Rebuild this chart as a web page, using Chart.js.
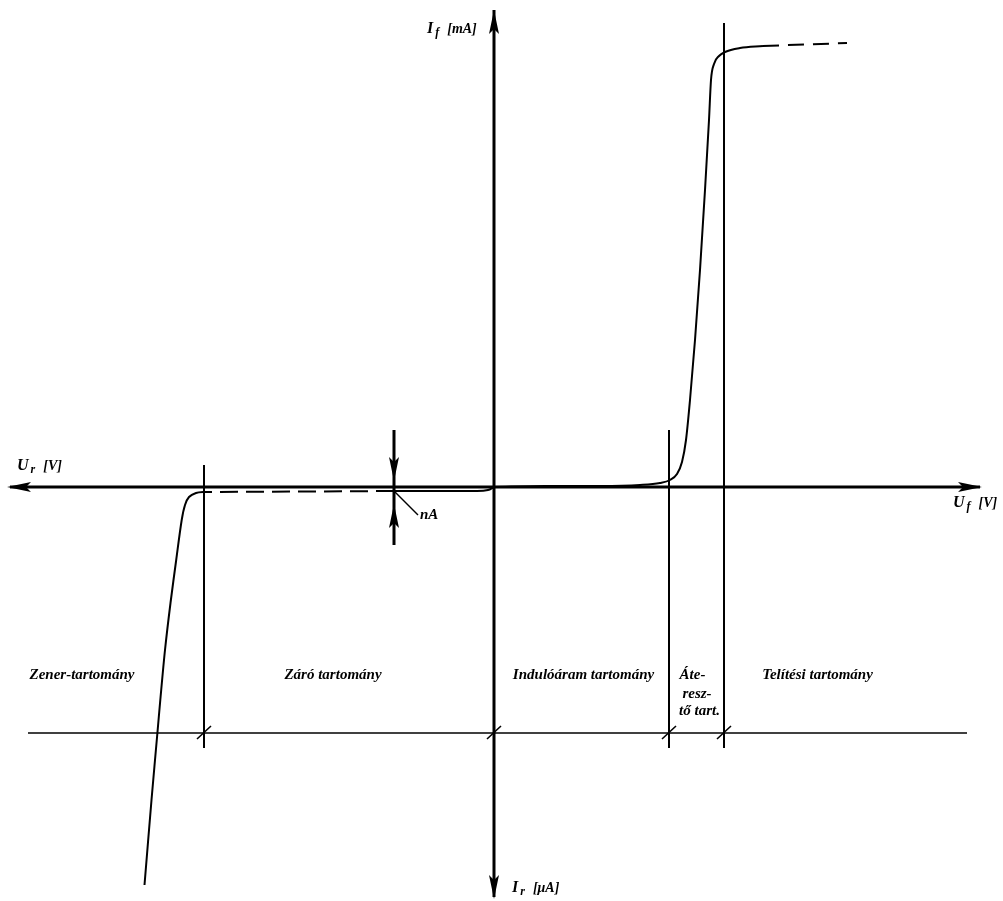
<!DOCTYPE html>
<html>
<head>
<meta charset="utf-8">
<script src="https://cdn.jsdelivr.net/npm/chart.js@4"></script>
<style>
  html, body { margin: 0; padding: 0; background: #fff; }
  #wrap { width: 1003px; height: 901px; }
</style>
</head>
<body>
<div id="wrap"><canvas id="chart" width="1003" height="901"></canvas></div>
<script>
// Diode characteristic, schematic units (U to the right, I up)
const forwardU = [0, 5.1, 10.6, 14.6, 16.6, 17.6, 18.3, 18.8, 19.2, 19.6, 20.1, 20.6, 21.1, 21.5, 21.7, 22.0, 22.5, 23.1, 24.6, 26.9];
const forwardI = [0, 0.1, 0.1, 0.2, 0.4, 0.7, 1.3, 2.5, 4.7, 8.7, 14.7, 21.7, 29.7, 36.7, 40.7, 42.3, 43.1, 43.5, 43.9, 44.1];
const forwardDashU = [26.9, 35.3];
const forwardDashI = [44.1, 44.4];

const leakU = [0, -0.6, -1.7, -10];
const leakI = [0, -0.3, -0.4, -0.4];
const leakDashU = [-10, -28.2];
const leakDashI = [-0.4, -0.5];
const zenerU = [-28.2, -29, -29.8, -30.5, -30.9, -31.23, -31.78, -32.35, -32.9, -33.37, -33.66, -34.25, -34.95];
const zenerI = [-0.5, -0.5, -0.6, -1.0, -1.8, -3.3, -7.3, -11.6, -16.3, -21.3, -24.6, -31.3, -39.8];

// region boundaries on the U axis and the top of each marker line
const boundaryU = [-29, 0, 17.5, 23];
const boundaryTop = [2.2, null, 5.7, 46.4];
const boundaryBottom = -26.1;
const regionLineI = -24.6;
const regionLineU = [-46.6, 47.3];

const regionNames = ['Zener-tartomány', 'Záró tartomány', 'Indulóáram tartomány', 'Áte-', 'resz-', 'tő tart.', 'Telítési tartomány'];
const regionLabelU = [-41.2, -16.1, 8.95, 19.85, 20.3, 20.55, 32.35];
const regionLabelI = [-19.2, -19.2, -19.2, -19.2, -21.1, -22.8, -19.2];

// axes extents
const uAxis = [-48.4, 48.6];
const iAxis = [-41.0, 47.7];
const nAMarkU = -10;
const nAMarkI = [5.7, -5.8];

const pts = (xs, ys) => xs.map((x, i) => ({ x: x, y: ys[i] }));

function seg(data, width, dash) {
  return {
    data: data,
    showLine: true,
    borderColor: '#000',
    backgroundColor: '#000',
    borderWidth: width,
    borderDash: dash || [],
    pointRadius: 0,
    tension: 0,
    spanGaps: false
  };
}

// vertical boundary lines (skip the one that is the main axis)
let boundaryData = [];
boundaryU.forEach((u, i) => {
  if (boundaryTop[i] === null) return;
  boundaryData.push({ x: u, y: boundaryTop[i] }, { x: u, y: boundaryBottom }, { x: u, y: null });
});
// small slashes on the region line
let slashData = [];
boundaryU.forEach(u => {
  slashData.push({ x: u - 0.7, y: regionLineI - 0.6 }, { x: u + 0.7, y: regionLineI + 0.7 }, { x: u, y: null });
});

const curveStyle = { tension: 0.25, cubicInterpolationMode: 'monotone' };

const datasets = [
  seg([{ x: uAxis[0], y: 0 }, { x: uAxis[1], y: 0 }], 3),
  seg([{ x: 0, y: iAxis[0] }, { x: 0, y: iAxis[1] }], 3),
  seg(boundaryData, 2),
  seg([{ x: regionLineU[0], y: regionLineI }, { x: regionLineU[1], y: regionLineI }], 1.6),
  seg(slashData, 1.6),
  seg([{ x: nAMarkU, y: nAMarkI[0] }, { x: nAMarkU, y: nAMarkI[1] }], 3),
  seg([{ x: nAMarkU, y: -0.4 }, { x: -7.6, y: -2.8 }], 1.5),
  Object.assign(seg(pts(forwardU, forwardI), 2), curveStyle),
  seg(pts(forwardDashU, forwardDashI), 2, [16, 9]),
  Object.assign(seg(pts(leakU, leakI), 2), { tension: 0.3 }),
  seg(pts(leakDashU, leakDashI), 2, [18, 8]),
  Object.assign(seg(pts(zenerU, zenerI), 2), { tension: 0.3 })
];

const FONT = '"Liberation Serif", "Times New Roman", serif';

function arrow(ctx, x, y, angle) {
  ctx.save();
  ctx.translate(x, y);
  ctx.rotate(angle);
  ctx.beginPath();
  ctx.moveTo(0, 0);
  ctx.lineTo(-24, -5);
  ctx.lineTo(-19, 0);
  ctx.lineTo(-24, 5);
  ctx.closePath();
  ctx.fillStyle = '#000';
  ctx.fill();
  ctx.restore();
}

function axisLabel(ctx, x, y, main, sub, unit) {
  ctx.fillStyle = '#000';
  ctx.textAlign = 'left';
  ctx.textBaseline = 'alphabetic';
  ctx.font = 'bold italic 16px ' + FONT;
  ctx.fillText(main, x, y);
  let w = ctx.measureText(main).width + 2;
  ctx.font = 'bold italic 12px ' + FONT;
  ctx.fillText(sub, x + w, y + 3);
  w += ctx.measureText(sub).width + 8;
  ctx.font = 'bold italic 14px ' + FONT;
  ctx.fillText(unit, x + w, y);
}

const drawing = {
  id: 'drawing',
  afterDatasetsDraw(chart) {
    const ctx = chart.ctx;
    const sx = chart.scales.x, sy = chart.scales.y;
    const px = v => sx.getPixelForValue(v);
    const py = v => sy.getPixelForValue(v);

    arrow(ctx, px(uAxis[0] - 0.3), py(0), Math.PI);
    arrow(ctx, px(uAxis[1] + 0.2), py(0), 0);
    arrow(ctx, px(0), py(iAxis[1]), -Math.PI / 2);
    arrow(ctx, px(0), py(iAxis[0] - 0.2), Math.PI / 2);
    arrow(ctx, px(nAMarkU), py(0.6), Math.PI / 2);
    arrow(ctx, px(nAMarkU), py(-1.7), -Math.PI / 2);

    axisLabel(ctx, px(-6.7), py(45.4), 'I', 'f', '[mA]');
    axisLabel(ctx, px(-47.7), py(1.7), 'U', 'r', '[V]');
    axisLabel(ctx, px(45.9), py(-2.0), 'U', 'f', '[V]');
    axisLabel(ctx, px(1.8), py(-40.5), 'I', 'r', '[μA]');

    ctx.font = 'bold italic 15px ' + FONT;
    ctx.textAlign = 'left';
    ctx.fillText('nA', px(-7.4), py(-3.2));

    ctx.font = 'bold italic 15px ' + FONT;
    ctx.textAlign = 'center';
    regionNames.forEach((name, i) => {
      ctx.fillText(name, px(regionLabelU[i]), py(regionLabelI[i]));
    });
  }
};

new Chart(document.getElementById('chart').getContext('2d'), {
  type: 'scatter',
  data: { datasets: datasets },
  options: {
    responsive: false,
    animation: false,
    layout: { padding: 0 },
    plugins: { legend: { display: false }, tooltip: { enabled: false } },
    scales: {
      x: { type: 'linear', min: -49.4, max: 50.9, display: false },
      y: { type: 'linear', min: -41.4, max: 48.7, display: false }
    }
  },
  plugins: [drawing]
});
</script>
</body>
</html>
